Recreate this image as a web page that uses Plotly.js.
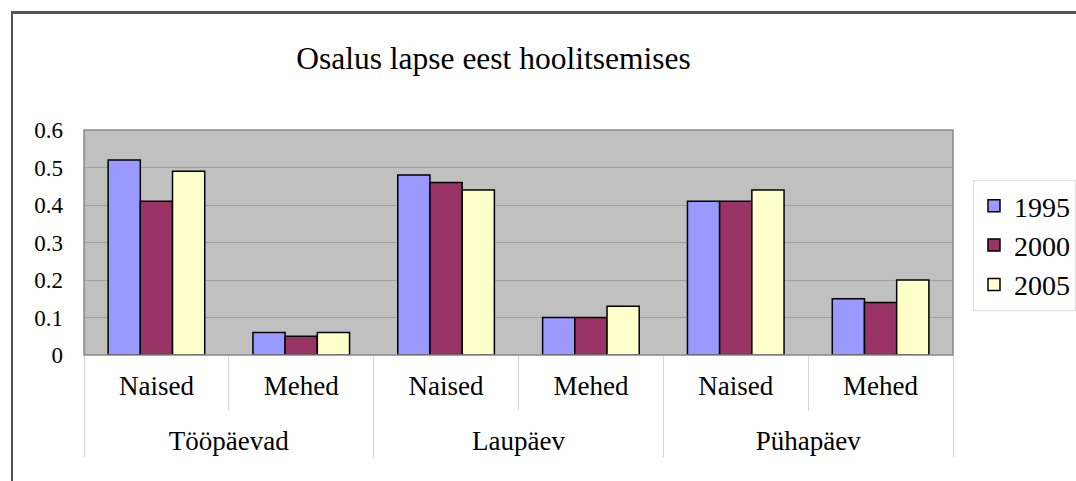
<!DOCTYPE html>
<html><head><meta charset="utf-8">
<script src="https://cdn.plot.ly/plotly-3.0.1.min.js"></script>
<style>
html,body{margin:0;padding:0;background:#fff;overflow:hidden;}
#wrap{position:relative;width:1076px;height:481px;}
#frame{position:absolute;left:11px;top:11px;width:1100px;height:500px;border-left:2px solid #555;border-top:3px solid #555;box-sizing:border-box;pointer-events:none;z-index:5;}
#chart{width:1076px;height:481px;}
</style></head>
<body>
<div id="wrap"><div id="chart"></div><div id="frame"></div></div>
<script>
const periods = ["Tööpäevad","Tööpäevad","Laupäev","Laupäev","Pühapäev","Pühapäev"];
const genders = ["Naised","Mehed","Naised","Mehed","Naised","Mehed"];
const years = ["1995","2000","2005"];
const v1995 = [0.52, 0.06, 0.48, 0.10, 0.41, 0.15];
const v2000 = [0.41, 0.05, 0.46, 0.10, 0.41, 0.14];
const v2005 = [0.49, 0.06, 0.44, 0.13, 0.44, 0.20];
const yTickVals = [0, 0.1, 0.2, 0.3, 0.4, 0.5, 0.6];
const yTickText = ["0", "0.1", "0.2", "0.3", "0.4", "0.5", "0.6"];
const colors = ["#9999ff","#993366","#ffffcc"];
const series = [v1995, v2000, v2005];

// outer labels drawn one line lower, as in the reference
const periodLabels = periods.map(p => "<br>" + p);

const serif = "Liberation Serif, Times New Roman, serif";
const traces = series.map((vals, i) => ({
  type: "bar",
  name: years[i],
  x: [periodLabels, genders],
  y: vals,
  marker: {color: colors[i], line: {color: "#000", width: 1.5}},
  hoverinfo: "none"
}));

const layout = {
  width: 1076, height: 481,
  margin: {l: 84, r: 123, t: 130, b: 126, autoexpand: false},
  paper_bgcolor: "#fff",
  plot_bgcolor: "#c0c0c0",
  barmode: "group",
  bargap: 0.333,
  bargroupgap: 0,
  showlegend: true,
  font: {family: serif, color: "#000", size: 26},
  title: {text: "Osalus lapse eest hoolitsemises", font: {family: serif, size: 31.5, color: "#000"},
          x: 0.4586, xref: "container", xanchor: "center", y: 0.879, yref: "container", yanchor: "middle"},
  xaxis: {
    type: "multicategory",
    showline: false,
    showgrid: false,
    ticks: "outside",
    tickson: "boundaries",
    ticklen: 55,
    tickcolor: "#d4d4d4",
    tickwidth: 1,
    showdividers: true,
    dividercolor: "#d4d4d4",
    dividerwidth: 1,
    ticklabelstandoff: 12,
    tickfont: {family: serif, size: 27, color: "#000"}
  },
  yaxis: {
    range: [0, 0.6],
    tickvals: yTickVals,
    ticktext: yTickText,
    showgrid: true,
    gridcolor: "#a0a0a0",
    gridwidth: 1,
    zeroline: false,
    showline: false,
    ticks: "",
    ticklabelstandoff: 20,
    tickfont: {family: serif, size: 23, color: "#000"}
  },
  legend: {
    x: 1.023, xanchor: "left", y: 0.778, yanchor: "top",
    bgcolor: "#fff", bordercolor: "#e0e0e0", borderwidth: 1,
    font: {family: serif, size: 28, color: "#000"},
    itemwidth: 30
  },
  shapes: [
    {type: "rect", xref: "paper", yref: "paper", x0: 0, x1: 1, y0: 0, y1: 1, line: {color: "#888", width: 1.5}, fillcolor: "rgba(0,0,0,0)", layer: "above"}
  ]
};

Plotly.newPlot("chart", traces, layout, {displayModeBar: false, staticPlot: true});
</script>
</body></html>
